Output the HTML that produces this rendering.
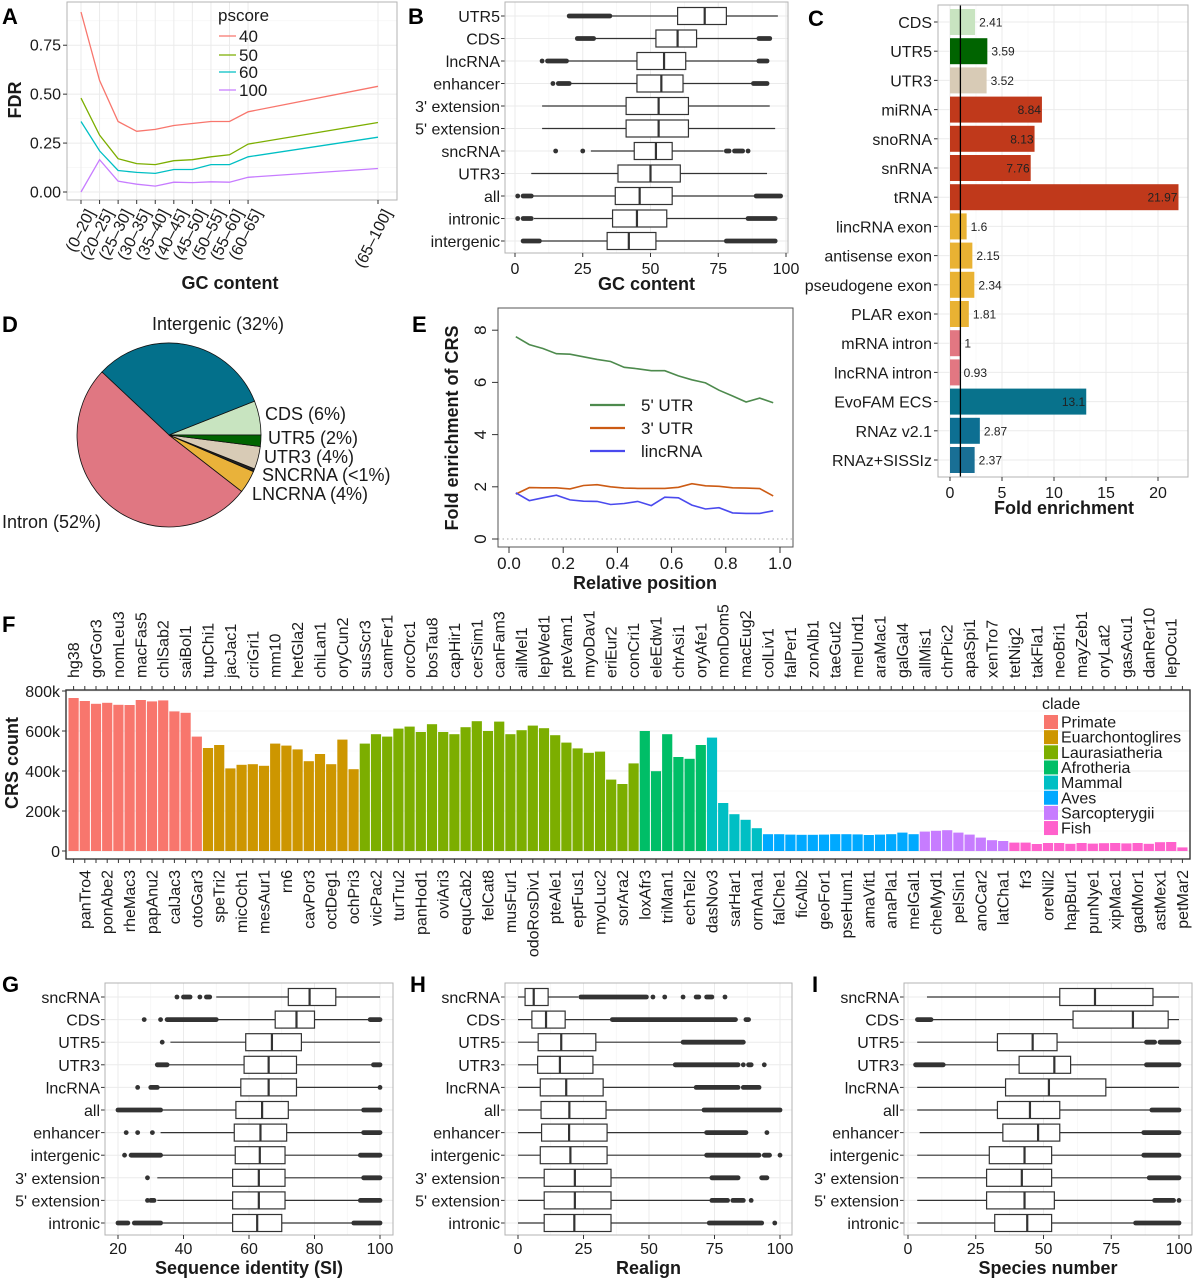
<!DOCTYPE html>
<html><head><meta charset="utf-8"><title>CRS figure</title>
<style>
html,body{margin:0;padding:0;background:#fff;}
svg{display:block;font-family:"Liberation Sans",Arial,sans-serif;}
.nar{font-family:"Liberation Sans Narrow","Liberation Sans",sans-serif;}
</style></head>
<body>
<svg id="fig" xmlns="http://www.w3.org/2000/svg" width="1204" height="1280" viewBox="0 0 1204 1280"></svg>
<script>
// ---------- Panel A data ----------
const aCats = ['(0–20]','(20–25]','(25–30]','(30–35]','(35–40]','(40–45]','(45–50]','(50–55]','(55–60]','(60–65]','(65–100]'];
const aUpper = [20,25,30,35,40,45,50,55,60,65,100];
const aP40 = [0.92,0.57,0.36,0.31,0.32,0.34,0.35,0.36,0.36,0.41,0.54];
const aP50 = [0.48,0.29,0.17,0.145,0.14,0.16,0.165,0.18,0.19,0.245,0.355];
const aP60 = [0.36,0.21,0.11,0.10,0.095,0.115,0.115,0.14,0.14,0.18,0.28];
const aP100 = [0.0,0.165,0.055,0.04,0.03,0.05,0.048,0.052,0.05,0.075,0.12];
const aTicks = [0,0.25,0.5,0.75];
const aTickLabels = ['0.00','0.25','0.50','0.75'];

// ---------- Panel B data ----------
const bLabels = ['UTR5','CDS','lncRNA','enhancer',"3' extension","5' extension",'sncRNA','UTR3','all','intronic','intergenic'];
const bLo = [35,29,19,20,10,10,28,6,6,7,9];
const bQ1 = [60,52,45,45,41,41,44,38,37,36,34];
const bMed = [70,60,55,54,53,53,52,50,46,45,42];
const bQ3 = [78,67,63,62,64,64,58,61,58,56,52];
const bHi = [97,90,90,88,94,96,77,93,89,86,78];
const bOut = [[[20,35]],[[23,29],[90,94]],[[10,10],[12,19],[90,93]],[[14,14],[16,20],[88,93]],[],[],[[15,15],[25,25],[78,79],[81,84],[86,86]],[],[[1,1],[3,6],[89,98]],[[1,1],[3,6],[86,96]],[[3,9],[78,96]]];

// ---------- Panel C data ----------
const cLabels = ['CDS','UTR5','UTR3','miRNA','snoRNA','snRNA','tRNA','lincRNA exon','antisense exon','pseudogene exon','PLAR exon','mRNA intron','lncRNA intron','EvoFAM ECS','RNAz v2.1','RNAz+SISSIz'];
const cValues = [2.41,3.59,3.52,8.84,8.13,7.76,21.97,1.6,2.15,2.34,1.81,1,0.93,13.1,2.87,2.37];
const cValueLabels = ['2.41','3.59','3.52','8.84','8.13','7.76','21.97','1.6','2.15','2.34','1.81','1','0.93','13.1','2.87','2.37'];
const cColors = ['#c8e4c0','#006400','#d8cbb6','#c0391b','#c0391b','#c0391b','#c0391b','#e9b233','#e9b233','#e9b233','#e9b233','#e27782','#e27782','#08728c','#0d6f92','#196f95'];
const cTicks = [0,5,10,15,20];

// ---------- Panel D data ----------
const dLabels = ['CDS (6%)','Intergenic (32%)','Intron (52%)','LNCRNA (4%)','SNCRNA (<1%)','UTR3 (4%)','UTR5 (2%)'];
const dValues = [6,32,51.5,4,0.5,4,2];
const dColors = ['#c8e4c0','#03708b','#e07782','#e9b23a','#222222','#d8cbb6','#006400'];

// ---------- Panel E data ----------
const eX = [0.025,0.075,0.125,0.175,0.225,0.275,0.325,0.375,0.425,0.475,0.525,0.575,0.625,0.675,0.725,0.775,0.825,0.875,0.925,0.975];
const e5UTR = [7.75,7.45,7.3,7.1,7.08,6.98,6.88,6.8,6.58,6.52,6.45,6.45,6.25,6.1,5.98,5.7,5.48,5.25,5.4,5.22];
const e3UTR = [1.72,1.97,1.96,1.96,1.92,2.05,2.08,2.0,1.95,1.94,1.94,1.94,1.98,2.12,2.04,2.02,1.96,1.95,1.93,1.65];
const eLinc = [1.77,1.47,1.58,1.68,1.5,1.45,1.44,1.32,1.36,1.44,1.28,1.6,1.58,1.3,1.15,1.2,1.0,0.98,0.98,1.08];
const eYTicks = [0,2,4,6,8];
const eXTicks = [0,0.2,0.4,0.6,0.8,1.0];
const eXTickLabels = ['0.0','0.2','0.4','0.6','0.8','1.0'];

// ---------- Panel F data ----------
const fSpecies = ['hg38','panTro4','gorGor3','ponAbe2','nomLeu3','rheMac3','macFas5','papAnu2','chlSab2','calJac3','saiBol1','otoGar3',
'tupChi1','speTri2','jacJac1','micOch1','criGri1','mesAur1','mm10','rn6','hetGla2','cavPor3','chiLan1','octDeg1','oryCun2','ochPri3',
'susScr3','vicPac2','camFer1','turTru2','orcOrc1','panHod1','bosTau8','oviAri3','capHir1','equCab2','cerSim1','felCat8','canFam3','musFur1','ailMel1','odoRosDiv1','lepWed1','pteAle1','pteVam1','eptFus1','myoDav1','myoLuc2','eriEur2','sorAra2','conCri1',
'loxAfr3','eleEdw1','triMan1','chrAsi1','echTel2','oryAfe1',
'dasNov3','monDom5','sarHar1','macEug2','ornAna1',
'colLiv1','falChe1','falPer1','ficAlb2','zonAlb1','geoFor1','taeGut2','pseHum1','melUnd1','amaVit1','araMac1','anaPla1','galGal4','melGal1',
'allMis1','cheMyd1','chrPic2','pelSin1','apaSpi1','anoCar2','xenTro7','latCha1',
'tetNig2','fr3','takFla1','oreNil2','neoBri1','hapBur1','mayZeb1','punNye1','oryLat2','xipMac1','gasAcu1','gadMor1','danRer10','astMex1','lepOcu1','petMar2'];
const fCounts = [765,750,736,741,731,730,755,748,753,698,691,572,
515,530,413,431,434,426,537,527,508,449,485,434,557,409,
537,584,572,612,622,595,634,595,584,619,649,600,647,584,604,627,614,579,542,513,491,497,357,335,438,
600,399,584,470,461,530,
567,240,184,156,114,
84,84,82,81,81,82,84,84,83,80,82,84,92,84,
97,101,104,92,82,67,54,50,
42,42,35,40,40,36,40,37,39,40,38,40,36,44,45,18];
const fCladeSizes = [12,14,25,6,5,14,8,16];
const fClades = ['Primate','Euarchontoglires','Laurasiatheria','Afrotheria','Mammal','Aves','Sarcopterygii','Fish'];
const fCladeColors = ['#f8766d','#cd9600','#7cae00','#00be67','#00bfc4','#00a9ff','#c77cff','#ff61cc'];
const fTicks = [0,200,400,600,800];
const fTickLabels = ['0','200k','400k','600k','800k'];

// ---------- Panels G/H/I data ----------
const ghiLabels = ['sncRNA','CDS','UTR5','UTR3','lncRNA','all','enhancer','intergenic',"3' extension","5' extension",'intronic'];
const gLo = [50,50,36,35,32,33,33,33,32,32,33];
const gQ1 = [72,68,59,58.5,57.5,56,55.5,55.8,55,55,55];
const gMed = [78.5,74.5,67,66,66,64,63.5,63.3,63,63,62.5];
const gQ3 = [86.5,80,76,74.5,74.5,72,71.5,71,71,71,70];
const gHi = [100,97,100,98,100,95,95,94,95,94,92];
const gOut = [[[38,38],[40,42],[45,45],[47,48]],[[28,28],[33,33],[35,50],[97,100]],[[33.5,33.5]],[[32,35],[98,100]],[[26,26],[30,32],[100,100]],[[20,33],[95,100]],[[22.5,22.5],[26,26],[30.5,30.5],[95,100]],[[22,22],[24,33],[94,100]],[[29,29],[95,100]],[[29,29],[30,31],[94,100]],[[20,23],[25,33],[92,100]]];
const hLo = [0,0,0,0,0,0,0,0,0,0,0];
const hQ1 = [2.7,5.3,7.7,7.5,8.5,8.8,9,8.5,10,10,10];
const hMed = [6,10.7,16.5,16,18.4,19.6,19.5,20,21.7,21.7,21.5];
const hQ3 = [11.5,18,29.7,28.6,32.5,33.6,34,34,35.5,35.5,35.5];
const hHi = [23,36,63,60,68,71,72,72,74,74,73];
const hOut = [[[24,49],[51.5,51.5],[56,56],[63,63],[68,69],[72,74],[79,79]],[[36,83],[87,88]],[[63,86]],[[60,84],[86,86],[88,89],[94,94]],[[68,84],[86,92]],[[71,100]],[[72,87],[95,95]],[[72,92],[94,96],[100,100]],[[74,84],[93,95]],[[74,80],[82,86],[89,89]],[[73,93],[98,98]]];
const iLo = [7,8.7,3.4,13,3.4,3.4,4.3,3.4,3.4,3.4,3.4];
const iQ1 = [56,60.9,33,41,36,33,35,30,29,29,32];
const iMed = [69,83,46,54,52,45,48,43,42,43,44];
const iQ3 = [90.4,96,55,60,73,56,56,53,53,54,53];
const iHi = [100,100,88,88,100,90,87,87,89,91,84];
const iOut = [[],[[3.5,8.5]],[[88,91],[93,100]],[[2.8,13],[88,100]],[],[[90,100]],[[87,100]],[[87,100]],[[89,100]],[[91,98],[100,100]],[[84,100]]];

// ---------- helpers ----------
const NS = 'http://www.w3.org/2000/svg';
const svg = document.getElementById('fig');
function mk(tag, attrs, name, parent) {
  const el = document.createElementNS(NS, tag);
  for (const k in attrs) el.setAttribute(k, attrs[k]);
  
  
  (parent || svg).appendChild(el);
  return el;
}
function txt(x, y, s, size, anchor, name, extra, parent) {
  const a = Object.assign({x: x, y: y, 'font-size': size, 'text-anchor': anchor || 'start', fill: '#1a1a1a'}, extra || {});
  const el = mk('text', a, name, parent);
  el.textContent = s;
  return el;
}
function grp(name) { return mk('g', {}, name); }

// ---------- Panel A ----------
(function () {
  const g = grp('panel-a');
  const L = 67, R = 397, T = 2, B = 200;
  const x = v => 81 + (v - 20) * 3.7125;
  const y = v => 192 - v * 195.7;
  mk('rect', {x: L, y: T, width: R - L, height: B - T, fill: '#fff'}, 'panel-a-background', g);
  [0.125, 0.375, 0.625, 0.875].forEach(v => mk('line', {x1: L, x2: R, y1: y(v), y2: y(v), stroke: '#f3f3f3', 'stroke-width': 0.6}, 'minor-gridline', g));
  aTicks.forEach(v => mk('line', {x1: L, x2: R, y1: y(v), y2: y(v), stroke: '#ebebeb', 'stroke-width': 1}, 'y-gridline', g));
  aUpper.forEach(v => mk('line', {x1: x(v), x2: x(v), y1: T, y2: B, stroke: '#ebebeb', 'stroke-width': 1}, 'x-gridline', g));
  const series = [[aP40, '#f8766d'], [aP50, '#7cae00'], [aP60, '#00bfc4'], [aP100, '#c77cff']];
  series.forEach((s, si) => {
    const d = s[0].map((v, i) => (i ? 'L' : 'M') + x(aUpper[i]).toFixed(1) + ',' + y(v).toFixed(1)).join(' ');
    mk('path', {d: d, fill: 'none', stroke: s[1], 'stroke-width': 1.3}, 'fdr-line-pscore-' + ['40','50','60','100'][si], g);
  });
  mk('rect', {x: L, y: T, width: R - L, height: B - T, fill: 'none', stroke: '#b3b3b3', 'stroke-width': 1}, 'panel-a-border', g);
  aTicks.forEach((v, i) => {
    mk('line', {x1: L - 4, x2: L, y1: y(v), y2: y(v), stroke: '#333'}, 'y-tick', g);
    txt(L - 6, y(v) + 5.5, aTickLabels[i], 16, 'end', 'y-tick-label', null, g);
  });
  aUpper.forEach((v, i) => {
    mk('line', {x1: x(v), x2: x(v), y1: B, y2: B + 4, stroke: '#333'}, 'x-tick', g);
    txt(x(v) + 5, B + 8, aCats[i], 16, 'end', 'x-tick-label', {transform: 'rotate(-63 ' + (x(v) + 5) + ' ' + (B + 8) + ')', 'dominant-baseline': 'hanging'}, g);
  });
  txt(230, 289, 'GC content', 18, 'middle', 'x-axis-title', {'font-weight': 'bold'}, g);
  txt(21, 100, 'FDR', 18, 'middle', 'y-axis-title', {'font-weight': 'bold', transform: 'rotate(-90 21 100)'}, g);
  txt(218, 21, 'pscore', 17, 'start', 'legend-title', null, g);
  ['40','50','60','100'].forEach((lab, i) => {
    const yy = [36, 55, 72, 90][i];
    mk('line', {x1: 219, x2: 236, y1: yy, y2: yy, stroke: series[i][1], 'stroke-width': 1.3}, 'legend-key', g);
    txt(239, yy + 6, lab, 17, 'start', 'legend-label', null, g);
  });
  txt(2, 24, 'A', 22, 'start', 'panel-label-a', {'font-weight': 'bold', fill: '#000'}, g);
})();

// ---------- boxplot helper ----------
function boxPanel(cfg) {
  const g = grp(cfg.name);
  const {L, R, T, B, x0, x1, v0, v1} = cfg;
  const x = v => x0 + (v - v0) * (x1 - x0) / (v1 - v0);
  const y = i => cfg.y0 + i * cfg.step;
  mk('rect', {x: L, y: T, width: R - L, height: B - T, fill: '#fff'}, 'panel-background', g);
  cfg.minor.forEach(v => mk('line', {x1: x(v), x2: x(v), y1: T, y2: B, stroke: '#f3f3f3', 'stroke-width': 0.6}, 'minor-gridline', g));
  cfg.ticks.forEach(v => mk('line', {x1: x(v), x2: x(v), y1: T, y2: B, stroke: '#ebebeb'}, 'x-gridline', g));
  cfg.labels.forEach((lab, i) => mk('line', {x1: L, x2: R, y1: y(i), y2: y(i), stroke: '#ebebeb'}, 'y-gridline', g));
  cfg.labels.forEach((lab, i) => {
    const yy = y(i), h = cfg.bh;
    const bg = mk('g', {}, 'box-' + lab.replace(/[^a-zA-Z0-9]+/g, '-'), g);
    mk('line', {x1: x(cfg.lo[i]), x2: x(cfg.q1[i]), y1: yy, y2: yy, stroke: '#333', 'stroke-width': 1.2}, 'whisker-low', bg);
    mk('line', {x1: x(cfg.q3[i]), x2: x(cfg.hi[i]), y1: yy, y2: yy, stroke: '#333', 'stroke-width': 1.2}, 'whisker-high', bg);
    mk('rect', {x: x(cfg.q1[i]), y: yy - h / 2, width: x(cfg.q3[i]) - x(cfg.q1[i]), height: h, fill: '#fff', stroke: '#333', 'stroke-width': 1.2}, 'box-iqr', bg);
    mk('line', {x1: x(cfg.med[i]), x2: x(cfg.med[i]), y1: yy - h / 2, y2: yy + h / 2, stroke: '#333', 'stroke-width': 2.2}, 'box-median', bg);
    cfg.out[i].forEach(r => {
      if (r[0] === r[1]) mk('circle', {cx: x(r[0]), cy: yy, r: 2.4, fill: '#333'}, 'outlier', bg);
      else mk('line', {x1: x(r[0]), x2: x(r[1]), y1: yy, y2: yy, stroke: '#333', 'stroke-width': 4.8, 'stroke-linecap': 'round'}, 'outlier-cluster', bg);
    });
    mk('line', {x1: L - 4, x2: L, y1: yy, y2: yy, stroke: '#333'}, 'y-tick', g);
    txt(L - 5, yy + 6, lab, 16, 'end', 'y-tick-label', null, g);
  });
  mk('rect', {x: L, y: T, width: R - L, height: B - T, fill: 'none', stroke: '#b3b3b3'}, 'panel-border', g);
  cfg.ticks.forEach(v => {
    mk('line', {x1: x(v), x2: x(v), y1: B, y2: B + 4, stroke: '#333'}, 'x-tick', g);
    txt(x(v), cfg.tickY, String(v), 16, 'middle', 'x-tick-label', null, g);
  });
  txt((L + R) / 2, cfg.titleY, cfg.title, 18, 'middle', 'x-axis-title', {'font-weight': 'bold'}, g);
  txt(cfg.letterX, cfg.letterY, cfg.letter, 22, 'start', 'panel-label-' + cfg.letter.toLowerCase(), {'font-weight': 'bold', fill: '#000'}, g);
}

boxPanel({name: 'panel-b', L: 505, R: 788, T: 2, B: 253, x0: 515, x1: 786, v0: 0, v1: 100, y0: 16, step: 22.5, bh: 17,
  labels: bLabels, lo: bLo, q1: bQ1, med: bMed, q3: bQ3, hi: bHi, out: bOut, ticks: [0,25,50,75,100], minor: [12.5,37.5,62.5,87.5],
  tickY: 274, titleY: 290, title: 'GC content', letter: 'B', letterX: 408, letterY: 24});
boxPanel({name: 'panel-g', L: 105, R: 393, T: 983, B: 1235, x0: 118, x1: 380, v0: 20, v1: 100, y0: 997, step: 22.6, bh: 17,
  labels: ghiLabels, lo: gLo, q1: gQ1, med: gMed, q3: gQ3, hi: gHi, out: gOut, ticks: [20,40,60,80,100], minor: [30,50,70,90],
  tickY: 1254, titleY: 1274, title: 'Sequence identity (SI)', letter: 'G', letterX: 2, letterY: 992});
boxPanel({name: 'panel-h', L: 505, R: 792, T: 983, B: 1235, x0: 518, x1: 780, v0: 0, v1: 100, y0: 997, step: 22.6, bh: 17,
  labels: ghiLabels, lo: hLo, q1: hQ1, med: hMed, q3: hQ3, hi: hHi, out: hOut, ticks: [0,25,50,75,100], minor: [12.5,37.5,62.5,87.5],
  tickY: 1254, titleY: 1274, title: 'Realign', letter: 'H', letterX: 410, letterY: 992});
boxPanel({name: 'panel-i', L: 904, R: 1192, T: 983, B: 1235, x0: 908, x1: 1179, v0: 0, v1: 100, y0: 997, step: 22.6, bh: 17,
  labels: ghiLabels, lo: iLo, q1: iQ1, med: iMed, q3: iQ3, hi: iHi, out: iOut, ticks: [0,25,50,75,100], minor: [12.5,37.5,62.5,87.5],
  tickY: 1254, titleY: 1274, title: 'Species number', letter: 'I', letterX: 812, letterY: 992});

// ---------- Panel C ----------
(function () {
  const g = grp('panel-c');
  const L = 938, R = 1188, T = 5, B = 477;
  const x = v => 950 + v * 10.4;
  const y = i => 22 + i * 29.2;
  mk('rect', {x: L, y: T, width: R - L, height: B - T, fill: '#fff'}, 'panel-c-background', g);
  [2.5, 7.5, 12.5, 17.5].forEach(v => mk('line', {x1: x(v), x2: x(v), y1: T, y2: B, stroke: '#f3f3f3', 'stroke-width': 0.6}, 'minor-gridline', g));
  cTicks.forEach(v => mk('line', {x1: x(v), x2: x(v), y1: T, y2: B, stroke: '#ebebeb'}, 'x-gridline', g));
  cLabels.forEach((l, i) => mk('line', {x1: L, x2: R, y1: y(i), y2: y(i), stroke: '#ebebeb'}, 'y-gridline', g));
  cLabels.forEach((lab, i) => {
    const yy = y(i);
    mk('rect', {x: x(0), y: yy - 13, width: x(cValues[i]) - x(0), height: 26, fill: cColors[i]}, 'bar-' + lab.replace(/[^a-zA-Z0-9]+/g, '-'), g);
    if (cValues[i] > 5) txt(x(cValues[i]) - 1, yy + 4.5, cValueLabels[i], 12, 'end', 'bar-value-label', {fill: '#222'}, g);
    else txt(x(cValues[i]) + 4, yy + 4.5, cValueLabels[i], 12, 'start', 'bar-value-label', {fill: '#222'}, g);
    mk('line', {x1: L - 4, x2: L, y1: yy, y2: yy, stroke: '#333'}, 'y-tick', g);
    txt(L - 6, yy + 6, lab, 16, 'end', 'y-tick-label', null, g);
  });
  mk('line', {x1: x(1), x2: x(1), y1: T, y2: B, stroke: '#000', 'stroke-width': 1.3}, 'reference-line-1', g);
  mk('rect', {x: L, y: T, width: R - L, height: B - T, fill: 'none', stroke: '#b3b3b3'}, 'panel-c-border', g);
  cTicks.forEach(v => {
    mk('line', {x1: x(v), x2: x(v), y1: B, y2: B + 4, stroke: '#333'}, 'x-tick', g);
    txt(x(v), 498, String(v), 16, 'middle', 'x-tick-label', null, g);
  });
  txt(1064, 514, 'Fold enrichment', 18, 'middle', 'x-axis-title', {'font-weight': 'bold'}, g);
  txt(808, 26, 'C', 22, 'start', 'panel-label-c', {'font-weight': 'bold', fill: '#000'}, g);
})();

// ---------- Panel D ----------
(function () {
  const g = grp('panel-d');
  const cx = 169, cy = 435, r = 92;
  const total = dValues.reduce((a, b) => a + b, 0);
  let a0 = 0;
  dValues.forEach((v, i) => {
    const a1 = a0 + v / total * 2 * Math.PI;
    const p0 = [cx + r * Math.cos(a0), cy - r * Math.sin(a0)];
    const p1 = [cx + r * Math.cos(a1), cy - r * Math.sin(a1)];
    const large = (a1 - a0) > Math.PI ? 1 : 0;
    mk('path', {d: 'M' + cx + ',' + cy + ' L' + p0[0].toFixed(2) + ',' + p0[1].toFixed(2) + ' A' + r + ',' + r + ' 0 ' + large + ' 0 ' + p1[0].toFixed(2) + ',' + p1[1].toFixed(2) + ' Z',
      fill: dColors[i], stroke: '#111', 'stroke-width': 0.8}, 'pie-slice-' + dLabels[i].split(' ')[0].toLowerCase(), g);
    a0 = a1;
  });
  const lp = [[265, 420, 'start'], [218, 330, 'middle'], [2, 528, 'start'], [252, 500, 'start'], [262, 481, 'start'], [264, 463, 'start'], [268, 444, 'start']];
  dLabels.forEach((lab, i) => txt(lp[i][0], lp[i][1], lab, 18, lp[i][2], 'pie-label', {'class': 'nar'}, g));
  txt(2, 332, 'D', 22, 'start', 'panel-label-d', {'font-weight': 'bold', fill: '#000'}, g);
})();

// ---------- Panel E ----------
(function () {
  const g = grp('panel-e');
  const L = 498, R = 793, T = 308, B = 547;
  const x = v => 509 + v * 271;
  const y = v => 539 - v * 26.1;
  mk('line', {x1: L, x2: R, y1: y(0), y2: y(0), stroke: '#aaa', 'stroke-dasharray': '1.5 3'}, 'zero-line', g);
  const series = [[e5UTR, '#4d8a4d', '5\' UTR'], [e3UTR, '#cc5b14', '3\' UTR'], [eLinc, '#4a4aee', 'lincRNA']];
  series.forEach(s => {
    const d = s[0].map((v, i) => (i ? 'L' : 'M') + x(eX[i]).toFixed(1) + ',' + y(v).toFixed(1)).join(' ');
    mk('path', {d: d, fill: 'none', stroke: s[1], 'stroke-width': 1.6}, 'line-' + s[2].replace(/[^a-zA-Z0-9]+/g, ''), g);
  });
  mk('rect', {x: L, y: T, width: R - L, height: B - T, fill: 'none', stroke: '#555'}, 'panel-e-border', g);
  eYTicks.forEach(v => {
    mk('line', {x1: L - 6, x2: L, y1: y(v), y2: y(v), stroke: '#333'}, 'y-tick', g);
    txt(486, y(v), String(v), 17, 'middle', 'y-tick-label', {'class': 'nar', transform: 'rotate(-90 486 ' + y(v) + ')'}, g);
  });
  eXTicks.forEach((v, i) => {
    mk('line', {x1: x(v), x2: x(v), y1: B, y2: B + 6, stroke: '#333'}, 'x-tick', g);
    txt(x(v), 569, eXTickLabels[i], 17, 'middle', 'x-tick-label', {'class': 'nar'}, g);
  });
  txt(645, 589, 'Relative position', 18, 'middle', 'x-axis-title', {'font-weight': 'bold'}, g);
  txt(458, 428, 'Fold enrichment of CRS', 18, 'middle', 'y-axis-title', {'font-weight': 'bold', transform: 'rotate(-90 458 428)'}, g);
  series.forEach((s, i) => {
    const yy = 405 + i * 23;
    mk('line', {x1: 590, x2: 625, y1: yy, y2: yy, stroke: s[1], 'stroke-width': 2.2}, 'legend-key', g);
    txt(641, yy + 6, s[2], 17, 'start', 'legend-label', {'class': 'nar'}, g);
  });
  txt(412, 332, 'E', 22, 'start', 'panel-label-e', {'font-weight': 'bold', fill: '#000'}, g);
})();

// ---------- Panel F ----------
(function () {
  const g = grp('panel-f');
  const L = 66, R = 1190, T = 690, B = 859;
  const band = (1188 - 68) / fSpecies.length;
  const xc = i => 68 + band * (i + 0.5);
  const y = v => 851 - v * 0.2;
  mk('rect', {x: L, y: T, width: R - L, height: B - T, fill: '#fff'}, 'panel-f-background', g);
  [100, 300, 500, 700].forEach(v => mk('line', {x1: L, x2: R, y1: y(v), y2: y(v), stroke: '#f3f3f3', 'stroke-width': 0.6}, 'minor-gridline', g));
  fTicks.forEach(v => mk('line', {x1: L, x2: R, y1: y(v), y2: y(v), stroke: '#ebebeb'}, 'y-gridline', g));
  const cladeOf = [];
  fCladeSizes.forEach((n, c) => { for (let k = 0; k < n; k++) cladeOf.push(c); });
  fSpecies.forEach((sp, i) => {
    mk('rect', {x: xc(i) - band / 2 + 0.5, y: y(fCounts[i]), width: band - 1, height: y(0) - y(fCounts[i]), fill: fCladeColors[cladeOf[i]]}, 'bar-' + sp, g);
  });
  mk('rect', {x: L, y: T, width: R - L, height: B - T, fill: 'none', stroke: '#333', 'stroke-width': 1.4}, 'panel-f-border', g);
  fSpecies.forEach((sp, i) => {
    mk('line', {x1: xc(i), x2: xc(i), y1: T - 4, y2: T, stroke: '#333'}, 'x-tick-top', g);
    mk('line', {x1: xc(i), x2: xc(i), y1: B, y2: B + 4, stroke: '#333'}, 'x-tick-bottom', g);
    if (i % 2 === 0) txt(xc(i) + 5.5, 678, sp, 16, 'start', 'species-label-top', {transform: 'rotate(-90 ' + (xc(i) + 5.5) + ' 678)'}, g);
    else txt(xc(i) + 5.5, 870, sp, 16, 'end', 'species-label-bottom', {transform: 'rotate(-90 ' + (xc(i) + 5.5) + ' 870)'}, g);
  });
  fTicks.forEach((v, i) => {
    mk('line', {x1: L - 4, x2: L, y1: y(v), y2: y(v), stroke: '#333'}, 'y-tick', g);
    txt(L - 6, y(v) + 6, fTickLabels[i], 16, 'end', 'y-tick-label', null, g);
  });
  txt(18, 763, 'CRS count', 18, 'middle', 'y-axis-title', {'font-weight': 'bold', transform: 'rotate(-90 18 763)'}, g);
  txt(1042, 709, 'clade', 16, 'start', 'legend-title', null, g);
  fClades.forEach((c, i) => {
    const yy = 722 + i * 15.15;
    mk('rect', {x: 1044, y: yy - 7, width: 14, height: 14, fill: fCladeColors[i]}, 'legend-swatch', g);
    txt(1061, yy + 5.5, c, 16, 'start', 'legend-label', null, g);
  });
  txt(2, 632, 'F', 22, 'start', 'panel-label-f', {'font-weight': 'bold', fill: '#000'}, g);
})();
</script>
</body></html>
